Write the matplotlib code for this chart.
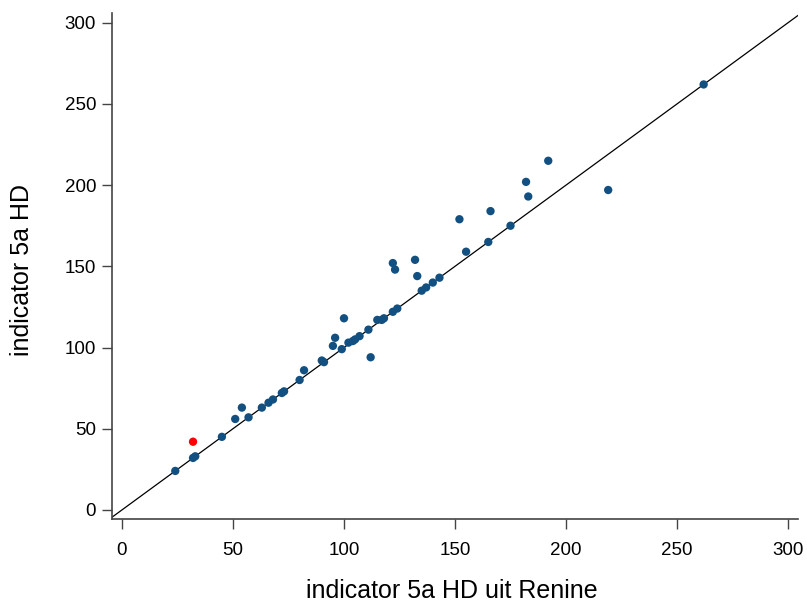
import matplotlib
matplotlib.use("Agg")
import matplotlib.pyplot as plt
import numpy as np

plt.rcParams['font.family'] = ['Liberation Sans', 'DejaVu Sans']

# indicator 5a HD uit Renine (x) vs indicator 5a HD (y)
x_renine = [24, 32, 33, 45, 51, 54, 57, 63, 66, 68, 72, 73, 80, 82, 90, 91,
            95, 96, 99, 100, 102, 104, 105, 107, 111, 112, 115, 117, 118,
            122, 124, 122, 123, 132, 133, 135, 137, 140, 143, 152, 155, 165,
            166, 175, 182, 183, 192, 219, 262]
y_hd = [24, 32, 33, 45, 56, 63, 57, 63, 66, 68, 72, 73, 80, 86, 92, 91,
        101, 106, 99, 118, 103, 104, 105, 107, 111, 94, 117, 117, 118,
        122, 124, 152, 148, 154, 144, 135, 137, 140, 143, 179, 159, 165,
        184, 175, 202, 193, 215, 197, 262]

# highlighted point
x_red = [32]
y_red = [42]

xticks = [0, 50, 100, 150, 200, 250, 300]
yticks = [0, 50, 100, 150, 200, 250, 300]

fig = plt.figure(figsize=(8.07, 6.06), dpi=100)
ax = fig.add_axes([112/807, 1 - 519/606, (798 - 112)/807, (519 - 13)/606])

ax.set_xlim(-4.5, 304.5)
ax.set_ylim(-5.6, 306)

line = np.array([-10, 320])
ax.plot(line, line, color='black', lw=0.9, zorder=1)

ax.scatter(x_renine, y_hd, s=36, color='#135082', edgecolors='none', zorder=2)
ax.scatter(x_red, y_red, s=36, color='#ff0000', edgecolors='none', zorder=3)

for s in ['top', 'right']:
    ax.spines[s].set_visible(False)
for s in ['left', 'bottom']:
    ax.spines[s].set_color('#444444')
    ax.spines[s].set_linewidth(1.2)

ax.set_xticks(xticks)
ax.set_yticks(yticks)
ax.tick_params(axis='both', direction='out', length=7, width=1, color='#444444',
               labelsize=13.5, labelcolor='black')
ax.tick_params(axis='x', pad=9.5)
ax.tick_params(axis='y', pad=4.5)

ax.set_xlabel('indicator 5a HD uit Renine', fontsize=18)
ax.set_ylabel('indicator 5a HD', fontsize=18)
ax.xaxis.label.set_va('center')
ax.yaxis.label.set_va('center')
ax.xaxis.set_label_coords((451.5 - 112) / 686, -(591 - 519) / 506)
ax.yaxis.set_label_coords((22 - 112) / 686, (519 - 270) / 506)

fig.savefig('out.png', dpi=100, facecolor='white')
